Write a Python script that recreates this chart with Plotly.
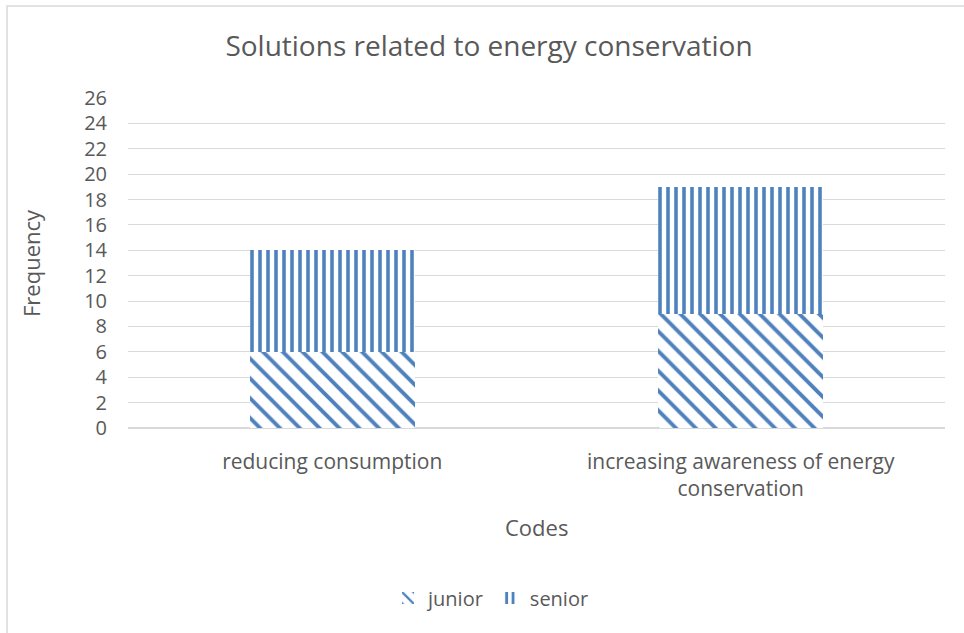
import plotly.graph_objects as go

categories = ["reducing consumption", "increasing awareness of energy<br>conservation"]
junior = [6, 9]
senior = [8, 10]
y_ticks = list(range(0, 27, 2))

BLUE = "#4F81BD"
GRAY = "#595959"
FONT = "Open Sans"

fig = go.Figure()
fig.add_trace(go.Bar(
    name="junior", x=categories, y=junior,
    marker=dict(color="white", line=dict(width=0),
                pattern=dict(shape="\\", fgcolor=BLUE, bgcolor="white", fgopacity=1,
                             size=14, solidity=0.28, fillmode="overlay")),
))
fig.add_trace(go.Bar(
    name="senior", x=categories, y=senior,
    marker=dict(color="white", line=dict(width=0),
                pattern=dict(shape="|", fgcolor=BLUE, bgcolor="white", fgopacity=1,
                             size=8, solidity=0.45, fillmode="overlay")),
))

L, R, T, B = 128, 19, 98, 205
W, H = 964, 633
pw, ph = W - L - R, H - T - B

fig.update_layout(
    width=W, height=H,
    barmode="stack", bargap=0.596,
    margin=dict(l=L, r=R, t=T, b=B, pad=0, autoexpand=False),
    paper_bgcolor="white", plot_bgcolor="white",
    font=dict(family=FONT, color=GRAY, size=20),
    title=dict(text="Solutions related to energy conservation", x=489 / W, xref="container",
               xanchor="center", y=1 - 46 / H, yref="container", yanchor="middle",
               font=dict(size=28, color=GRAY, family=FONT)),
    xaxis=dict(tickfont=dict(size=21, color=GRAY), showgrid=False, showline=False,
               ticks="", ticklabelstandoff=19),
    yaxis=dict(range=[0, 26], tickvals=y_ticks, tickfont=dict(size=20, color=GRAY),
               showgrid=True, gridcolor="#D9D9D9", gridwidth=1,
               zeroline=True, zerolinecolor="#D9D9D9", showline=False, ticks="",
               ticklabelstandoff=20),
    legend=dict(orientation="h", x=491 / W, xref="container", xanchor="center",
                y=-(598 - 428) / ph, yanchor="middle",
                font=dict(size=20, color=GRAY), traceorder="normal"),
    showlegend=True,
)

# axis titles
fig.add_annotation(text="Frequency", xref="paper", yref="paper",
                   x=(31 - L) / pw, y=(428 - 263) / ph, xanchor="center", yanchor="middle",
                   textangle=-90, showarrow=False, font=dict(size=22, color=GRAY, family=FONT))
fig.add_annotation(text="Codes", xref="paper", yref="paper",
                   x=(536.5 - L) / pw, y=-(527 - 428) / ph, xanchor="center", yanchor="middle",
                   showarrow=False, font=dict(size=22, color=GRAY, family=FONT))

# chart area border
fig.add_shape(type="rect", xref="paper", yref="paper",
              x0=(7 - L) / pw, x1=(W + 5 - L) / pw,
              y0=-(H + 5 - T - ph) / ph, y1=1 + (T - 6) / ph,
              line=dict(color="#D9D9D9", width=1.5), fillcolor="rgba(0,0,0,0)", layer="below")

fig.write_html("out.html", post_script="document.body.style.margin='0';",
               config={"displayModeBar": False})
